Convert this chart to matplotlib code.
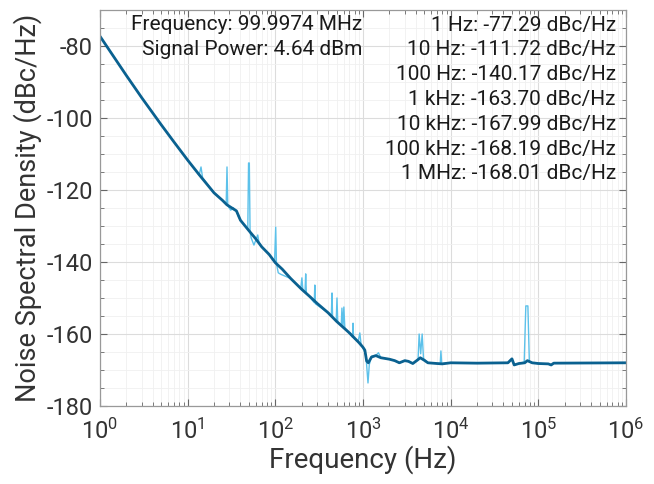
import numpy as np
import matplotlib
matplotlib.use("Agg")
import matplotlib.pyplot as plt
from matplotlib.ticker import LogLocator, MultipleLocator, NullFormatter

plt.rcParams['font.family'] = ['Roboto', 'DejaVu Sans']
plt.rcParams['mathtext.fontset'] = 'custom'
plt.rcParams['mathtext.rm'] = 'Roboto'
plt.rcParams['mathtext.default'] = 'regular'
plt.rcParams['axes.unicode_minus'] = False

# smoothed trace (dark)
smooth_f = [1, 2, 3, 5, 7, 10, 14, 20, 25, 28, 32, 36, 40, 50, 60, 70, 85, 100, 120, 150,
            200, 250, 300, 400, 500, 700, 900, 1000, 1050, 1100, 1150, 1250, 1400, 1600,
            2000, 2300, 2600, 3000, 3300, 3700, 4200, 4500, 5000, 5500, 7000, 8000, 10000,
            20000, 45000, 50000, 53000, 60000, 70000, 75000, 85000, 100000, 130000, 140000,
            150000, 1000000]
smooth_db = [-77.3, -88.2, -94.4, -101.9, -106.7, -111.7, -116.2, -120.8, -122.9, -124.1,
             -125.0, -125.8, -128.4, -131.3, -133.6, -135.8, -137.9, -140.2, -142.0, -144.6,
             -147.6, -149.7, -151.5, -154.1, -156.5, -159.7, -162.4, -163.7, -164.5, -167.5,
             -168.0, -166.4, -166.0, -166.6, -167.0, -167.4, -168.0, -167.4, -167.6, -168.2,
             -167.2, -166.6, -167.3, -168.0, -168.2, -168.3, -168.0, -168.1, -168.0, -166.9,
             -168.6, -168.2, -168.0, -167.4, -168.0, -168.2, -168.3, -168.6, -168.1, -168.0]

# raw trace (light), with spurs
raw_f = [1, 2, 3, 5, 7, 10, 13.5, 14.2, 14.8, 20, 25, 27.5, 28.1, 28.7, 31, 33, 36, 38, 40,
         48.5, 49.5, 50.5, 51.5, 53, 57, 61, 63, 65, 70, 85, 98, 101, 103, 108, 115, 150,
         195, 201, 206, 218, 222, 226, 278, 282, 286, 400, 435, 443, 450, 495, 505, 515,
         565, 575, 590, 605, 620, 760, 770, 780, 880, 920, 950, 1000, 1080, 1140, 1180,
         1250, 1400, 1500, 1600, 2000, 2300, 2600, 3000, 3300, 3700, 4250, 4370, 4550,
         4730, 4900, 5500, 7000, 7600, 7740, 7900, 10000, 20000, 45000, 50000, 53000,
         60000, 69000, 72000, 76000, 79000, 85000, 100000, 130000, 140000, 150000, 1000000]
raw_db = [-77.3, -88.2, -94.4, -101.9, -106.7, -111.7, -115.9, -113.6, -116.6, -120.8,
          -122.9, -123.8, -113.6, -124.4, -125.6, -124.9, -125.8, -127.5, -128.4,
          -130.9, -112.5, -112.5, -131.5, -133.3, -135.3, -133.4, -132.5, -134.6, -135.8,
          -137.9, -139.9, -130.3, -140.5, -143.0, -143.4, -144.6, -147.3, -144.4, -147.8,
          -148.4, -143.3, -148.6, -151.3, -146.4, -151.6, -154.1, -155.2, -148.6, -155.4,
          -156.3, -150.0, -156.7, -157.6, -152.8, -158.0, -152.5, -158.3, -160.9, -157.0,
          -161.1, -162.2, -159.7, -162.8, -163.7, -166.0, -173.6, -168.5, -166.2, -166.0,
          -165.2, -166.6, -167.0, -167.4, -168.0, -167.4, -167.6, -168.2, -166.9, -160.0,
          -165.5, -160.0, -166.8, -168.0, -168.2, -168.2, -164.7, -168.2, -168.0, -168.1,
          -168.0, -166.9, -168.6, -168.2, -167.8, -152.2, -152.2, -167.8, -168.0, -168.2,
          -168.3, -168.6, -168.1, -168.0]

info_left = ["Frequency: 99.9974 MHz", "Signal Power: 4.64 dBm"]
info_right = ["1 Hz: -77.29 dBc/Hz", "10 Hz: -111.72 dBc/Hz", "100 Hz: -140.17 dBc/Hz",
              "1 kHz: -163.70 dBc/Hz", "10 kHz: -167.99 dBc/Hz", "100 kHz: -168.19 dBc/Hz",
              "1 MHz: -168.01 dBc/Hz"]

fig = plt.figure(figsize=(6.54, 4.84), dpi=100)
ax = fig.add_axes([100/654, 78/484, 526/654, 396/484])

ax.semilogx(raw_f, raw_db, color='#5cc1ea', lw=1.0)
ax.semilogx(smooth_f, smooth_db, color='#0a6190', lw=2.0)

ax.set_xlim(1, 1e6)
ax.set_ylim(-180, -70)
ax.xaxis.set_major_locator(LogLocator(base=10, numticks=10))
ax.xaxis.set_minor_locator(LogLocator(base=10, subs=np.arange(2, 10), numticks=20))
ax.xaxis.set_minor_formatter(NullFormatter())
ax.yaxis.set_major_locator(MultipleLocator(20))
ax.yaxis.set_minor_locator(MultipleLocator(5))

ax.grid(True, which='major', color='#dcdcdc', lw=0.8)
ax.grid(True, which='minor', color='#f0f0f0', lw=0.6)
ax.set_axisbelow(True)

ax.tick_params(which='both', direction='in', top=True, right=True, colors='#666666',
               labelcolor='#333333')
ax.tick_params(which='major', length=5, labelsize=17)
ax.tick_params(axis='x', which='major', pad=9)
ax.tick_params(axis='y', which='major', pad=5)
ax.tick_params(which='minor', length=3)
for s in ax.spines.values():
    s.set_color('#999999')
    s.set_linewidth(0.9)

ax.set_xlabel("Frequency (Hz)", fontsize=20, color='#333333', labelpad=1)
ax.set_ylabel("Noise Spectral Density (dBc/Hz)", fontsize=19.5, color='#333333', labelpad=3)

for i, t in enumerate(info_left):
    fig.text(362/654, 1 - (25 + i * 24.8) / 484, t, ha='right', va='center', fontsize=15,
             color='#1a1a1a')
for i, t in enumerate(info_right):
    fig.text(616/654, 1 - (25 + i * 24.8) / 484, t, ha='right', va='center', fontsize=15,
             color='#1a1a1a')

fig.savefig("out.png", dpi=100)
